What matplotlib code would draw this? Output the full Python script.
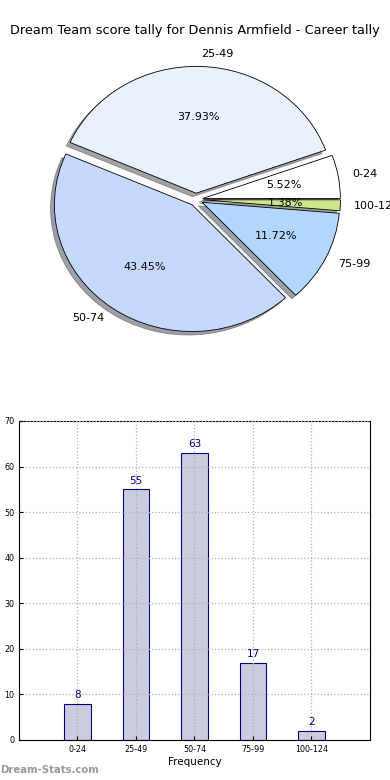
import numpy as np
import matplotlib
matplotlib.use('Agg')
import matplotlib.pyplot as plt

# score bands and how often each happened
bands = ['0-24', '25-49', '50-74', '75-99', '100-124']
counts = [8, 55, 63, 17, 2]
pie_colors = ['#ffffff', '#e9f1ff', '#c5d9ff', '#b3d6ff', '#cde88c']

fig = plt.figure(figsize=(3.9, 7.8), dpi=100)

# pie on top (slightly stretched sideways like the original)
ax1 = fig.add_axes([0.0615, 0.541, 0.882, 0.4064])
wedges, texts, autotexts = ax1.pie(counts, labels=bands, colors=pie_colors,
                                   explode=[0.05] * len(counts), shadow=True,
                                   autopct='%1.2f%%', startangle=0,
                                   wedgeprops={'edgecolor': 'black', 'linewidth': 0.6},
                                   textprops={'fontsize': 8})
ax1.set_aspect('auto')
fig.text(0.5, 0.961, 'Dream Team score tally for Dennis Armfield - Career tally',
         ha='center', va='center', fontsize=9.3)

# bar chart below
ax2 = fig.add_axes([0.0487, 0.0513, 0.9, 0.409])
x = np.arange(len(bands))
bars = ax2.bar(x, counts, width=0.45, color='#ccccdf', edgecolor='navy', linewidth=0.8)
for xi, c in zip(x, counts):
    ax2.text(xi, c + 0.8, str(c), ha='center', va='bottom', color='navy', fontsize=7.5)
ax2.set_xlim(-1, 5)
ax2.set_ylim(0, 70)
ax2.set_xticks(x)
ax2.set_xticklabels(bands)
ax2.tick_params(labelsize=5.8, length=3, direction='in')
ax2.grid(True, linestyle=':', color='#b0b0b0', linewidth=0.9)
ax2.set_axisbelow(False)
ax2.set_xlabel('Frequency', fontsize=7.5, labelpad=2)

fig.text(0.0, 0.006, 'Dream-Stats.com', color='#999999', fontsize=7.3, fontweight='bold',
         ha='left', va='bottom')

plt.savefig('out.png', dpi=100)
